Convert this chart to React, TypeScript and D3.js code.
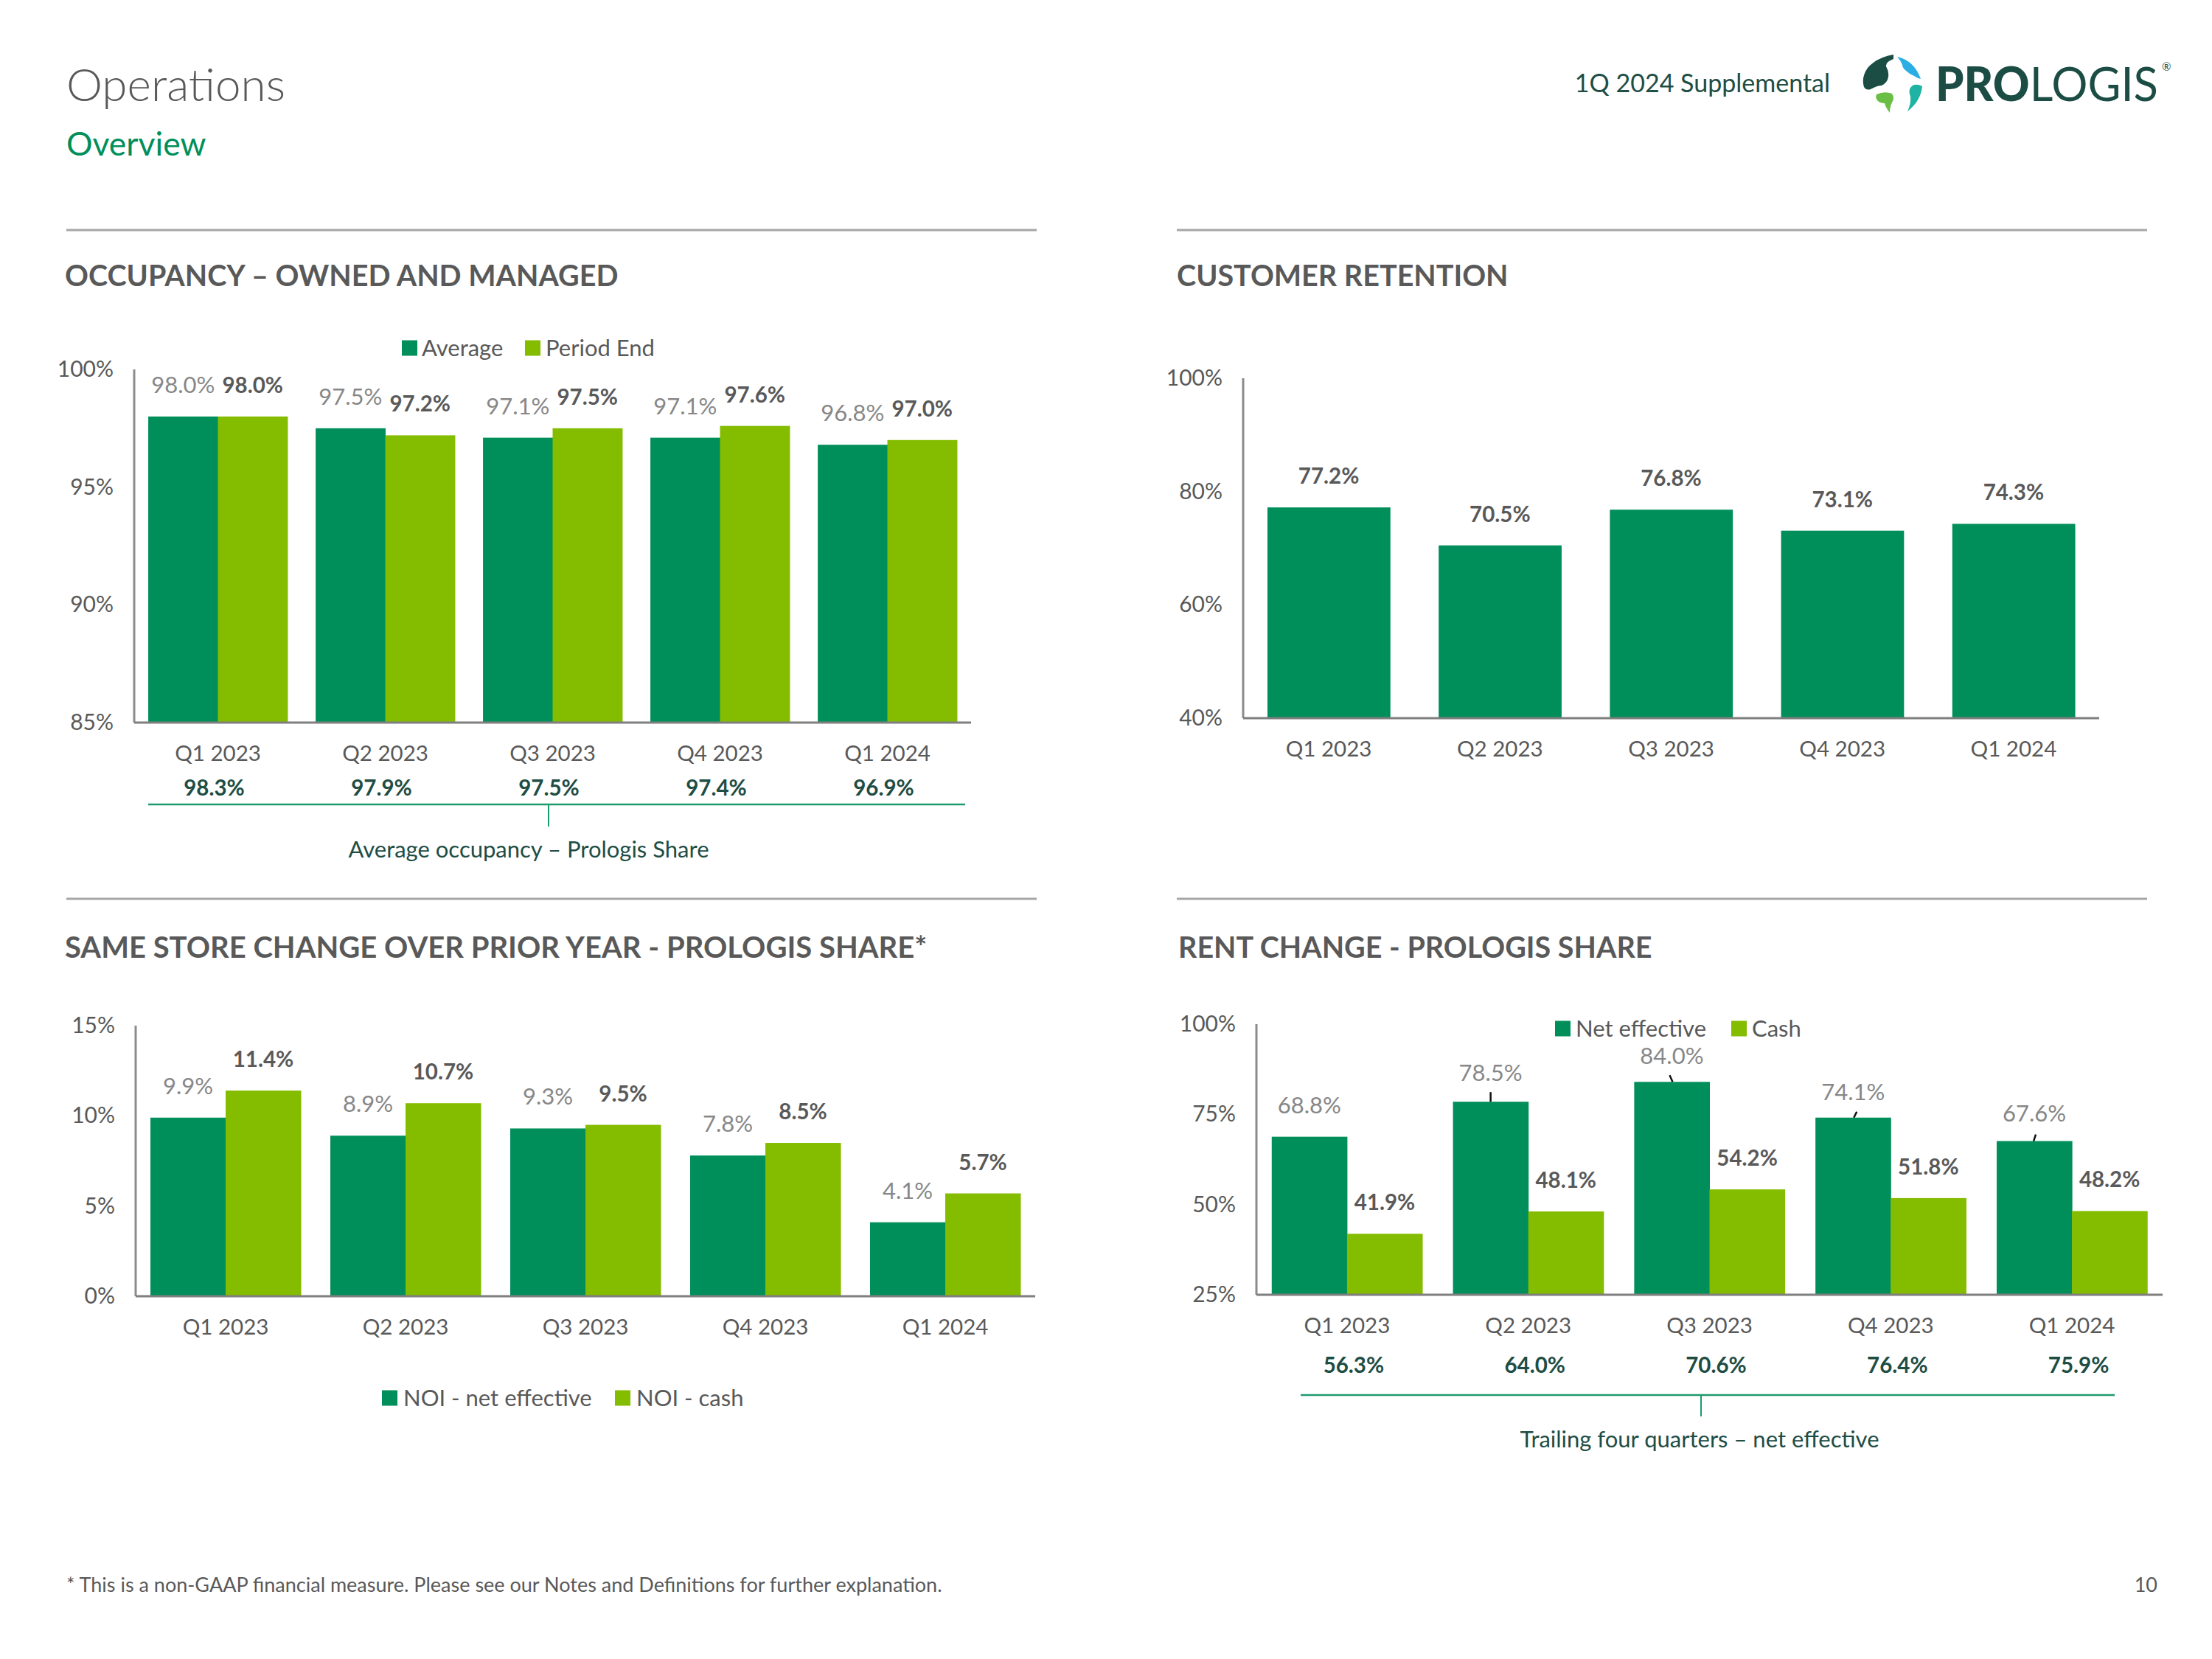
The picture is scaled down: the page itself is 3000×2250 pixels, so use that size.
import React from 'react';
import * as d3 from 'd3';

// ---------- DATA ----------
const quarters = ['Q1 2023', 'Q2 2023', 'Q3 2023', 'Q4 2023', 'Q1 2024'];

const occAverage = [98.0, 97.5, 97.1, 97.1, 96.8];
const occPeriodEnd = [98.0, 97.2, 97.5, 97.6, 97.0];
const occPrologisShare = [98.3, 97.9, 97.5, 97.4, 96.9];
const occTicks = [85, 90, 95, 100];

const retention = [77.2, 70.5, 76.8, 73.1, 74.3];
const retTicks = [40, 60, 80, 100];

const noiNetEffective = [9.9, 8.9, 9.3, 7.8, 4.1];
const noiCash = [11.4, 10.7, 9.5, 8.5, 5.7];
const ssTicks = [0, 5, 10, 15];

const rentNetEffective = [68.8, 78.5, 84.0, 74.1, 67.6];
const rentCash = [41.9, 48.1, 54.2, 51.8, 48.2];
const rentTrailing = [56.3, 64.0, 70.6, 76.4, 75.9];
const rentTicks = [25, 50, 75, 100];

// ---------- STYLE ----------
const FONT = 'Lato, "Open Sans", "Noto Sans", sans-serif';
const GRAY = '#595959';
const LGRAY = '#878787';
const DARK = '#008F5A';
const LIME = '#84BC00';
const TEAL = '#1E4D44';
const BRACKET = '#1E9A6C';
const RULE = '#A6A6A6';

type Series = { values: number[]; color: string; bold: boolean };

function BarChart(props: {
  x0: number; x1: number; yTop: number; yBot: number;
  domain: [number, number]; ticks: number[]; series: Series[];
  pInner: number; xLabelY: number;
  labelLift?: number[][]; leaders?: (null | [number, number, number, number])[];
}) {
  const { x0, x1, yTop, yBot, domain, ticks, series, pInner, xLabelY } = props;
  const x = d3.scaleBand<string>().domain(quarters).range([x0, x1]).paddingInner(pInner).paddingOuter(pInner / 2);
  const y = d3.scaleLinear().domain(domain).range([yBot, yTop]);
  const sub = d3.scaleBand<string>().domain(series.map((_, i) => String(i))).range([0, x.bandwidth()]);
  return (
    <g>
      {ticks.map((t) => (
        <text key={t} x={x0 - 28} y={y(t) + 10} textAnchor="end" fontSize={30} fill={GRAY}>{t}%</text>
      ))}
      {series.map((s, si) =>
        s.values.map((v, i) => {
          const bx = (x(quarters[i]) as number) + (sub(String(si)) as number);
          return <rect key={`b${si}-${i}`} x={bx} y={y(v)} width={sub.bandwidth() + 0.5} height={yBot - y(v)} fill={s.color} />;
        })
      )}
      {props.leaders && series[0].values.map((v, i) => {
        const l = props.leaders![i];
        if (!l) return null;
        const cx = (x(quarters[i]) as number) + (sub('0') as number) + sub.bandwidth() / 2;
        const top = y(v);
        return <line key={`l${i}`} x1={cx + l[0]} y1={top - l[1]} x2={cx + l[2]} y2={top - l[3]} stroke="#111" strokeWidth={2.5} />;
      })}
      {series.map((s, si) =>
        s.values.map((v, i) => {
          const cx = (x(quarters[i]) as number) + (sub(String(si)) as number) + sub.bandwidth() / 2;
          const lift = props.labelLift ? props.labelLift[si][i] : 32;
          return (
            <text key={`t${si}-${i}`} x={cx} y={y(v) - lift} textAnchor="middle" fontSize={s.bold ? 29.5 : 31}
              fontWeight={s.bold ? 700 : 400} fill={s.bold ? GRAY : LGRAY}>{v.toFixed(1)}%</text>
          );
        })
      )}
      <line x1={x0} x2={x0} y1={yTop} y2={yBot} stroke="#8C8C8C" strokeWidth={3} />
      <line x1={x0} x2={x1} y1={yBot} y2={yBot} stroke="#7F7F7F" strokeWidth={3} />
      {quarters.map((q) => (
        <text key={q} x={(x(q) as number) + x.bandwidth() / 2} y={xLabelY} textAnchor="middle" fontSize={29.5} fill={GRAY}>{q}</text>
      ))}
    </g>
  );
}

function ValueRow(props: { x0: number; x1: number; pInner: number; values: number[]; y: number; dx?: number }) {
  const x = d3.scaleBand<string>().domain(quarters).range([props.x0, props.x1]).paddingInner(props.pInner).paddingOuter(props.pInner / 2);
  return (
    <g>
      {props.values.map((v, i) => (
        <text key={i} x={(x(quarters[i]) as number) + x.bandwidth() / 2 + (props.dx || 0)} y={props.y} textAnchor="middle"
          fontSize={29.5} fontWeight={700} fill={TEAL}>{v.toFixed(1)}%</text>
      ))}
    </g>
  );
}

function Bracket(props: { xa: number; xb: number; y: number; xt: number; tickLen: number; caption: string; cx: number; cy: number }) {
  return (
    <g>
      <line x1={props.xa} x2={props.xb} y1={props.y} y2={props.y} stroke={BRACKET} strokeWidth={2.5} />
      <line x1={props.xt} x2={props.xt} y1={props.y} y2={props.y + props.tickLen} stroke={BRACKET} strokeWidth={2} />
      <text x={props.cx} y={props.cy} textAnchor="middle" fontSize={31} fill={TEAL}>{props.caption}</text>
    </g>
  );
}

function Legend(props: { items: { label: string; color: string; sx: number; tx: number }[]; cy: number }) {
  return (
    <g>
      {props.items.map((it) => (
        <g key={it.label}>
          <rect x={it.sx} y={props.cy - 10.5} width={21} height={21} fill={it.color} />
          <text x={it.tx} y={props.cy + 10.5} fontSize={31} fill={GRAY}>{it.label}</text>
        </g>
      ))}
    </g>
  );
}

function Logo() {
  return (
    <g>
      <path d="M2568,74 Q2545,78 2533,92 Q2524,105 2528,118 Q2531,123 2537,121 Q2546,116 2552,116 Q2560,112 2561,104 Q2562,97 2558,90 Q2557,84 2568,80 Z" fill="#1B4D45" />
      <path d="M2573,77 Q2596,82 2605,107 Q2600,106 2596,103 Q2589,100 2585,96 Q2580,92 2580,88 Q2578,82 2573,77 Z" fill="#2BAEE4" />
      <path d="M2596,115 Q2602,114 2607,117 Q2605,137 2587,151 Q2592,140 2591,131 Q2588,123 2591,119 Q2593,116 2596,115 Z" fill="#1FB3A3" />
      <path d="M2545,128 Q2556,123 2566,127 Q2570,133 2566,139 Q2563,145 2563,153 Q2557,145 2556,140 Q2549,140 2546,136 Q2543,132 2545,128 Z" fill="#6BBE45" />
      <text x={2625} y={137} fontSize={64} fill="#1B4D45" textLength={302} lengthAdjust="spacingAndGlyphs">
        <tspan fontWeight={900}>PRO</tspan><tspan fontWeight={400}>LOGIS</tspan>
      </text>
      <text x={2932} y={96} fontSize={15} fill="#1B4D45">®</text>
    </g>
  );
}

export default function App() {
  return (
    <svg width={3000} height={2250} viewBox="0 0 3000 2250"
      style={{ position: 'absolute', left: 0, top: 0, background: '#fff' }} fontFamily={FONT}>
      <rect x={0} y={0} width={3000} height={2250} fill="#fff" />
      {/* Header */}
      <text x={90} y={137} fontSize={62} fontWeight={300} fill={GRAY}>Operations</text>
      <text x={90} y={211} fontSize={44.5} fill="#008F5A">Overview</text>
      <text x={2482} y={125} fontSize={34} textAnchor="end" fill={TEAL}>1Q 2024 Supplemental</text>
      <Logo />

      {/* Section rules and titles */}
      <line x1={90} x2={1406} y1={312} y2={312} stroke={RULE} strokeWidth={3} />
      <line x1={1596} x2={2912} y1={312} y2={312} stroke={RULE} strokeWidth={3} />
      <line x1={90} x2={1406} y1={1219} y2={1219} stroke={RULE} strokeWidth={3} />
      <line x1={1596} x2={2912} y1={1219} y2={1219} stroke={RULE} strokeWidth={3} />
      <text x={88} y={388} fontSize={39.5} fontWeight={700} fill={GRAY}>OCCUPANCY – OWNED AND MANAGED</text>
      <text x={1596} y={388} fontSize={39.5} fontWeight={700} fill={GRAY}>CUSTOMER RETENTION</text>
      <text x={88} y={1299} fontSize={40} fontWeight={700} fill={GRAY}>SAME STORE CHANGE OVER PRIOR YEAR - PROLOGIS SHARE*</text>
      <text x={1598} y={1299} fontSize={39.5} fontWeight={700} fill={GRAY}>RENT CHANGE - PROLOGIS SHARE</text>

      {/* Occupancy */}
      <Legend cy={472} items={[
        { label: 'Average', color: DARK, sx: 545, tx: 572 },
        { label: 'Period End', color: LIME, sx: 712, tx: 740 },
      ]} />
      <BarChart x0={182} x1={1317} yTop={501} yBot={980} domain={[85, 100]} ticks={occTicks} pInner={0.168} xLabelY={1032}
        series={[
          { values: occAverage, color: DARK, bold: false },
          { values: occPeriodEnd, color: LIME, bold: true },
        ]} />
      <ValueRow x0={182} x1={1317} pInner={0.168} values={occPrologisShare} y={1079} dx={-5} />
      <Bracket xa={201} xb={1309} y={1091} xt={744} tickLen={30} caption="Average occupancy – Prologis Share" cx={717} cy={1163} />

      {/* Customer retention */}
      <BarChart x0={1686} x1={2847} yTop={513} yBot={974} domain={[40, 100]} ticks={retTicks} pInner={0.284} xLabelY={1026}
        series={[{ values: retention, color: DARK, bold: true }]} />

      {/* Same store */}
      <BarChart x0={184} x1={1404} yTop={1391} yBot={1758} domain={[0, 15]} ticks={ssTicks} pInner={0.164} xLabelY={1810}
        series={[
          { values: noiNetEffective, color: DARK, bold: false },
          { values: noiCash, color: LIME, bold: true },
        ]} />
      <Legend cy={1896} items={[
        { label: 'NOI - net effective', color: DARK, sx: 518, tx: 547 },
        { label: 'NOI - cash', color: LIME, sx: 834, tx: 863 },
      ]} />

      {/* Rent change */}
      <Legend cy={1395} items={[
        { label: 'Net effective', color: DARK, sx: 2109, tx: 2137 },
        { label: 'Cash', color: LIME, sx: 2348, tx: 2376 },
      ]} />
      <BarChart x0={1704} x1={2933} yTop={1389} yBot={1756} domain={[25, 100]} ticks={rentTicks} pInner={0.169} xLabelY={1808}
        series={[
          { values: rentNetEffective, color: DARK, bold: false },
          { values: rentCash, color: LIME, bold: true },
        ]}
        labelLift={[[32, 28, 24, 24, 27], [32, 32, 32, 32, 32]]}
        leaders={[null, [0, 13, 0, 0], [-3, 9, 1, 0], [5, 8, 1, 0], [2, 9, -1, 0]]} />
      <ValueRow x0={1704} x1={2933} pInner={0.169} values={rentTrailing} y={1862} dx={9} />
      <Bracket xa={1764} xb={2868} y={1892} xt={2307} tickLen={29} caption="Trailing four quarters – net effective" cx={2305} cy={1963} />

      {/* Footer */}
      <text x={90} y={2159} fontSize={27} fill={GRAY}>* This is a non-GAAP financial measure. Please see our Notes and Definitions for further explanation.</text>
      <text x={2926} y={2159} fontSize={27} textAnchor="end" fill={GRAY}>10</text>
    </svg>
  );
}
